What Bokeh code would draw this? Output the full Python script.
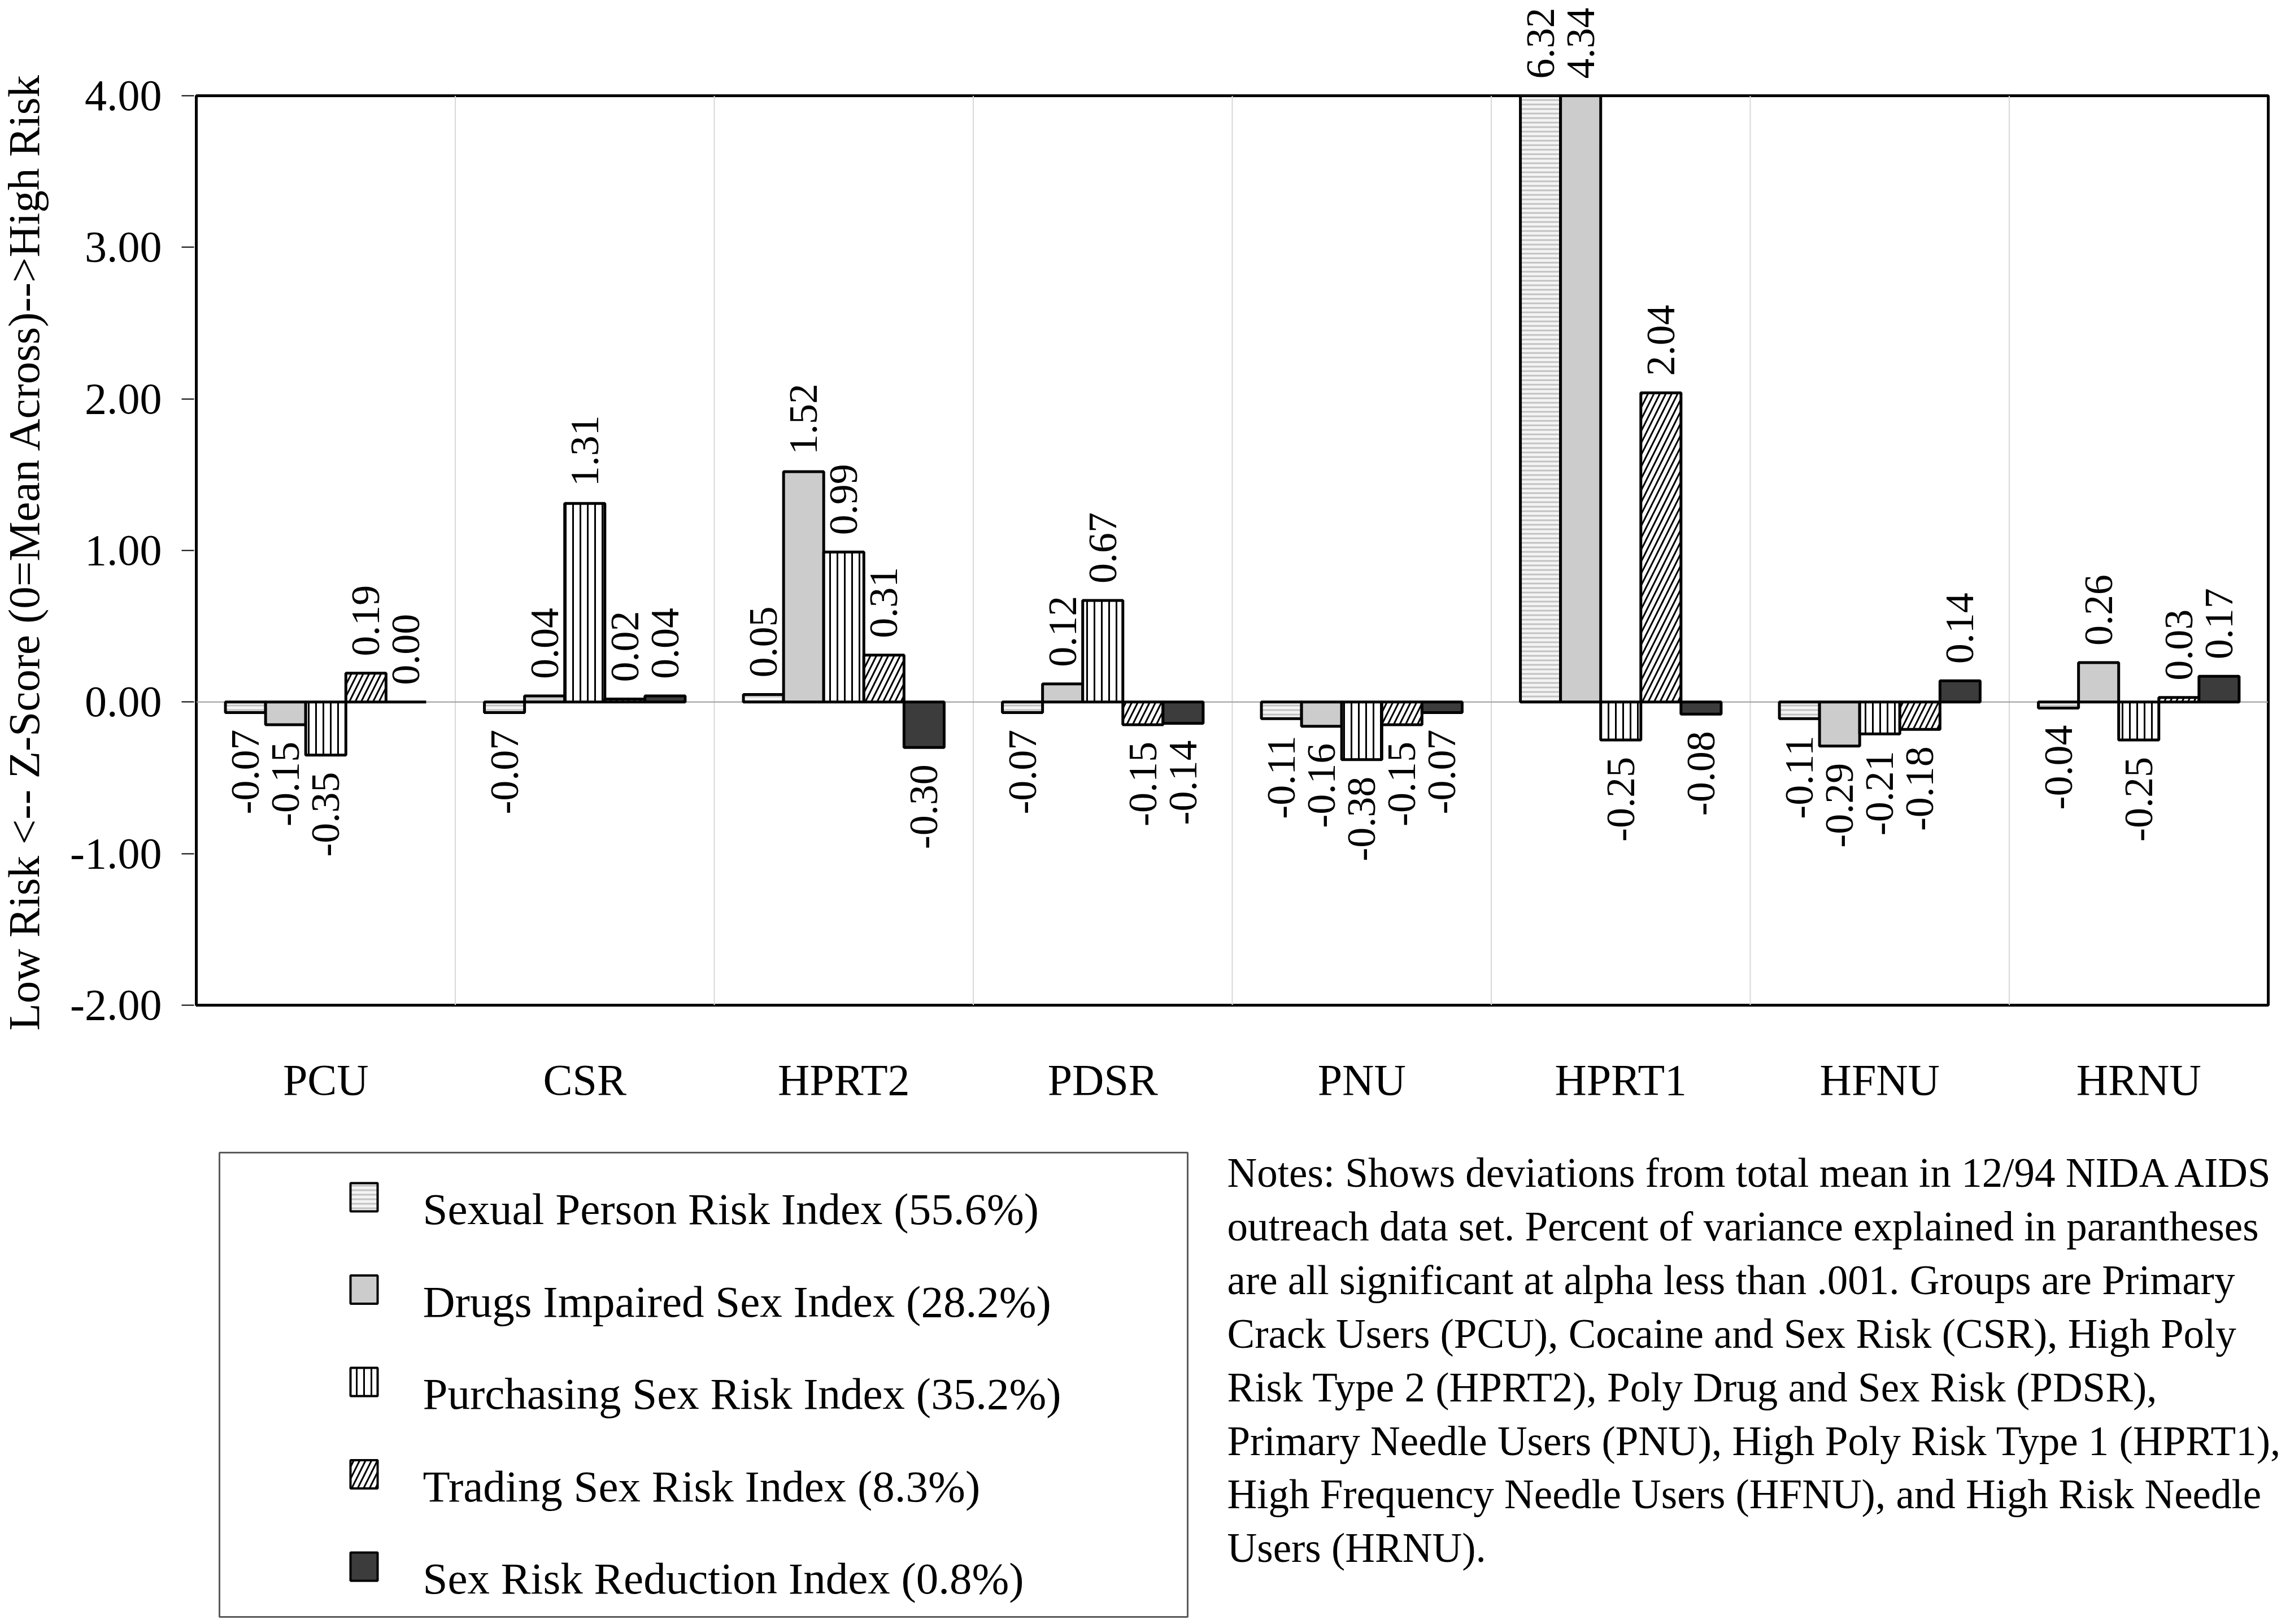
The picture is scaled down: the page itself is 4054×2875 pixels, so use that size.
import numpy as np
from bokeh.plotting import figure
from bokeh.models import (ColumnDataSource, FactorRange, Range1d, FixedTicker,
                          NumeralTickFormatter, LabelSet, Span)
from bokeh.transform import dodge
from bokeh.layouts import column, row
from bokeh.embed import file_html
from bokeh.resources import INLINE
from bokeh.core.properties import value

# ---------------- data ----------------
categories = ["PCU", "CSR", "HPRT2", "PDSR", "PNU", "HPRT1", "HFNU", "HRNU"]
sexual_person = [-0.07, -0.07, 0.05, -0.07, -0.11, 6.32, -0.11, -0.04]
drugs_impaired = [-0.15, 0.04, 1.52, 0.12, -0.16, 4.34, -0.29, 0.26]
purchasing = [-0.35, 1.31, 0.99, 0.67, -0.38, -0.25, -0.21, -0.25]
trading = [0.19, 0.02, 0.31, -0.15, -0.15, 2.04, -0.18, 0.03]
reduction = [0.00, 0.04, -0.30, -0.14, -0.07, -0.08, 0.14, 0.17]
series_names = [
    "Sexual Person Risk Index (55.6%)",
    "Drugs Impaired Sex Index (28.2%)",
    "Purchasing Sex Risk Index (35.2%)",
    "Trading Sex Risk Index (8.3%)",
    "Sex Risk Reduction Index (0.8%)",
]
y_ticks = [-2, -1, 0, 1, 2, 3, 4]
y_label = "Low Risk <-- Z-Score (0=Mean Across)-->High Risk"
notes_lines = [
    "Notes:  Shows deviations from total mean in 12/94 NIDA AIDS",
    "outreach data set.  Percent of variance explained in parantheses",
    "are all significant at alpha less than .001.  Groups are Primary",
    "Crack Users (PCU), Cocaine and Sex Risk (CSR), High Poly",
    "Risk Type 2 (HPRT2), Poly Drug and Sex Risk  (PDSR),",
    "Primary Needle Users (PNU), High Poly Risk Type 1 (HPRT1),",
    "High Frequency Needle Users (HFNU), and High Risk Needle",
    "Users (HRNU).",
]
series = [sexual_person, drugs_impaired, purchasing, trading, reduction]

# ---------------- styles / layout ----------------
FONT = "Liberation Serif"
styles = [
    dict(fill_color="#f4f4f4", hatch_pattern="horizontal_line", hatch_color="#c2c2c2",
         hatch_scale=8, hatch_weight=3),
    dict(fill_color="#cccccc"),
    dict(fill_color="white", hatch_pattern="vertical_line", hatch_color="black",
         hatch_scale=13, hatch_weight=3),
    dict(fill_color="white", hatch_pattern="right_diagonal_line", hatch_color="black",
         hatch_scale=21, hatch_weight=3),
    dict(fill_color="#3c3c3c"),
]
BW = 0.155
Y0, Y1 = -2, 4
W = 4050
WL = 100                  # column holding the y-axis title
WA = 244                  # column holding the y axis (ticks + tick labels)
PL, BR = 3, 35            # chart column borders left / right
FRAME_TOP = 169
FRAME_BOTTOM_BORDER = 219
STRIP_H = 140             # strip above the frame for labels of bars past the axis top
MAIN_H = 1858
TOP_H = STRIP_H + MAIN_H
BOTTOM_H = 872
GAP = 30
LABEL_FS = "72px"

x_range = FactorRange(factors=categories, range_padding=0)
y_range = Range1d(Y0, Y1)

# ---------------- y-axis title column (page pixel coordinates) ----------------
lfig = figure(x_range=Range1d(0, WL), y_range=Range1d(TOP_H, 0), width=WL, height=TOP_H,
              output_backend="svg", toolbar_location=None, min_border=0,
              x_axis_location=None, y_axis_location=None, outline_line_color=None,
              background_fill_color="white", border_fill_color="white")
lfig.grid.visible = False
lfig.frame_align = False
lfig.text(x=[42], y=[976], text=[y_label], angle=np.pi / 2, text_align="center",
          text_baseline="middle", text_font=value(FONT), text_font_size="79px",
          text_color="black")

# ---------------- y axis column (shares the chart's y range) ----------------
afig = figure(x_range=Range1d(0, 1), y_range=y_range, width=WA, height=TOP_H,
              output_backend="svg", toolbar_location=None, min_border_left=WA - 1,
              min_border_right=0, min_border_top=FRAME_TOP,
              min_border_bottom=FRAME_BOTTOM_BORDER, x_axis_location=None,
              outline_line_color=None, background_fill_color="white",
              border_fill_color="white")
afig.grid.visible = False
afig.frame_align = False
ax = afig.yaxis
ax.ticker = FixedTicker(ticks=y_ticks)
ax.formatter = NumeralTickFormatter(format="0.00")
ax.major_label_text_font = FONT
ax.major_label_text_font_size = "78px"
ax.major_label_text_color = "black"
ax.major_tick_out = 22
ax.major_tick_in = 0
ax.major_tick_line_width = 2
ax.major_tick_line_color = "black"
ax.minor_tick_line_color = None
ax.axis_line_color = None
ax.major_label_standoff = 35

# ---------------- strip above the frame ----------------
s = figure(x_range=x_range, y_range=Range1d(0, STRIP_H), width=W - WL - WA,
           height=STRIP_H, output_backend="svg", toolbar_location=None,
           min_border_left=PL, min_border_right=BR, min_border_top=0,
           min_border_bottom=0, x_axis_location=None, y_axis_location=None,
           outline_line_color=None, background_fill_color="white",
           border_fill_color="white")
s.grid.visible = False
s.frame_align = False

# ---------------- main chart ----------------
p = figure(x_range=x_range, y_range=y_range,
           width=W - WL - WA, height=MAIN_H, output_backend="svg",
           toolbar_location=None, y_axis_location=None,
           min_border_left=PL, min_border_right=BR,
           min_border_top=FRAME_TOP - STRIP_H, min_border_bottom=FRAME_BOTTOM_BORDER,
           background_fill_color="white", border_fill_color="white")
p.frame_align = False
p.outline_line_color = "black"
p.outline_line_width = 5
p.xgrid.visible = False
p.ygrid.visible = False

for b in range(1, len(categories)):
    p.add_layout(Span(location=b, dimension="height", line_color="#d8d8d8",
                      line_width=2, level="underlay"))
p.add_layout(Span(location=0, dimension="width", line_color="#9c9c9c",
                  line_width=2, level="underlay"))

for i, (vals, st) in enumerate(zip(series, styles)):
    off = (i - 2) * BW
    src = ColumnDataSource(dict(cat=categories, val=vals))
    p.vbar(x=dodge("cat", off, range=x_range), top="val", bottom=0, width=BW,
           source=src, line_color="black", line_width=5, **st)

    arr = np.array(vals)
    txt = ["%.2f" % v for v in arr]
    inside_pos = (arr >= 0) & (arr <= Y1)
    inside_neg = arr < 0
    for mask, align, yoff in ((inside_pos, "left", GAP), (inside_neg, "right", -GAP)):
        idx = np.where(mask)[0]
        if len(idx) == 0:
            continue
        ls = ColumnDataSource(dict(cat=[categories[k] for k in idx],
                                   y=[float(arr[k]) for k in idx],
                                   t=[txt[k] for k in idx]))
        p.add_layout(LabelSet(x=dodge("cat", off, range=x_range), y="y", text="t",
                              source=ls, angle=np.pi / 2, text_align=align,
                              text_baseline="middle", y_offset=yoff,
                              text_font=value(FONT), text_font_size=LABEL_FS,
                              text_color="black"))
    # bars running past the axis top: labels sit in the strip just above the frame
    idx = np.where(arr > Y1)[0]
    if len(idx):
        ls = ColumnDataSource(dict(cat=[categories[k] for k in idx],
                                   y=[0.0] * len(idx),
                                   t=[txt[k] for k in idx]))
        s.add_layout(LabelSet(x=dodge("cat", off, range=x_range), y="y", text="t",
                              source=ls, angle=np.pi / 2, text_align="left",
                              text_baseline="middle",
                              y_offset=GAP - (FRAME_TOP - STRIP_H),
                              text_font=value(FONT), text_font_size=LABEL_FS,
                              text_color="black"))

p.xaxis.major_tick_line_color = None
p.xaxis.minor_tick_line_color = None
p.xaxis.axis_line_color = None
p.xaxis.major_label_text_font = FONT
p.xaxis.major_label_text_font_size = "78px"
p.xaxis.major_label_text_color = "black"
p.xaxis.major_label_standoff = 82

# ---------------- legend + notes panel (page pixel coordinates) ----------------
q = figure(x_range=Range1d(0, W), y_range=Range1d(TOP_H + BOTTOM_H, TOP_H),
           width=W, height=BOTTOM_H, output_backend="svg", toolbar_location=None,
           min_border=0, x_axis_location=None, y_axis_location=None,
           outline_line_color=None, background_fill_color="white",
           border_fill_color="white")
q.grid.visible = False
q.frame_align = False

q.quad(left=[388], right=[2102], top=[2040], bottom=[2862], fill_color="white",
       line_color="#5a5a5a", line_width=3)
ROW = 163.5
for i, st in enumerate(styles):
    top = 2094 + i * ROW
    q.quad(left=[620], right=[668], top=[top], bottom=[top + 50],
           line_color="black", line_width=4, **st)
q.text(x=[748] * len(series_names), y=[2140 + i * ROW for i in range(len(series_names))],
       text=series_names, text_font=value(FONT), text_font_size="79px",
       text_align="left", text_baseline="alphabetic", text_color="black")

q.text(x=[2172] * len(notes_lines), y=[2076 + j * 94.9 for j in range(len(notes_lines))],
       text=notes_lines, text_font=value(FONT), text_font_size="73px",
       text_align="left", text_baseline="alphabetic", text_color="black")

layout = column(row(lfig, afig, column(s, p)), q)
open("out.html", "w").write(file_html(layout, INLINE))
